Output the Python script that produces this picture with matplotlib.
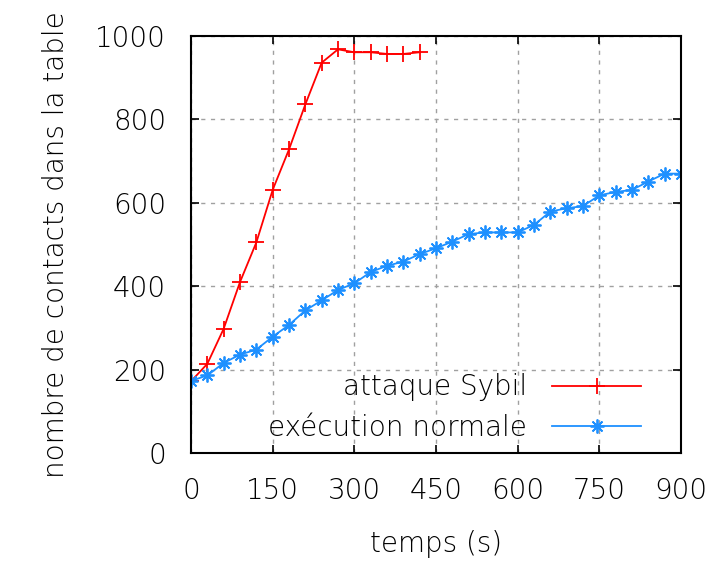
import matplotlib
matplotlib.use("Agg")
import matplotlib.pyplot as plt

# attaque Sybil
temps_sybil = [0, 30, 60, 90, 120, 150, 180, 210, 240, 270, 300, 330, 360, 390, 420]
contacts_sybil = [172, 214, 298, 410, 505, 631, 728, 836, 936, 968, 961, 961, 957, 957, 961]

# exécution normale
temps_normal = [0, 30, 60, 90, 120, 150, 180, 210, 240, 270, 300, 330, 360, 390, 420,
                450, 480, 510, 540, 570, 600, 630, 660, 690, 720, 750, 780, 810, 840, 870, 900]
contacts_normal = [173, 186, 216, 236, 248, 279, 307, 342, 366, 391, 407, 434, 449, 459, 477,
                   491, 507, 525, 529, 529, 529, 547, 579, 587, 592, 618, 626, 631, 651, 670, 670]

xticks = [0, 150, 300, 450, 600, 750, 900]
yticks = [0, 200, 400, 600, 800, 1000]

plt.rcParams['font.family'] = ['DejaVu Sans']
plt.rcParams['font.weight'] = 'light'
plt.rcParams['axes.labelweight'] = 'light'
fs = 20

fig = plt.figure(figsize=(7.09, 5.66), dpi=100)
ax = fig.add_axes([0.2694, 0.1996, 0.6911, 0.7368])

ax.plot(temps_sybil, contacts_sybil, color='#ff0000', lw=1.3, marker='+',
        markersize=11, markeredgewidth=1.3, label='attaque Sybil')
ax.plot(temps_normal, contacts_normal, color='#1e90ff', lw=1.3, marker=(8, 2, 0),
        markersize=10, markeredgewidth=1.3, label='exécution normale')

ax.set_xlim(0, 900)
ax.set_ylim(0, 1000)
ax.set_xticks(xticks)
ax.set_yticks(yticks)
ax.tick_params(direction='in', top=True, right=True, length=6, width=1.2,
               labelsize=fs)
ax.tick_params(axis='y', pad=18)
ax.tick_params(axis='x', pad=17)
ax.grid(True, color='#a0a0a0', linestyle=(0, (3, 4)), lw=1)
for s in ax.spines.values():
    s.set_linewidth(1.5)

ax.set_xlabel('temps (s)', fontsize=fs, labelpad=18)
ax.set_ylabel('nombre de contacts dans la table', fontsize=fs, labelpad=18)

leg = ax.legend(loc='lower right', frameon=False, markerfirst=False, fontsize=fs,
                handlelength=3.2, handletextpad=0.9, labelspacing=0.45,
                borderaxespad=0.0, bbox_to_anchor=(0.941, 0.0))

fig.savefig('out.png', dpi=100)
